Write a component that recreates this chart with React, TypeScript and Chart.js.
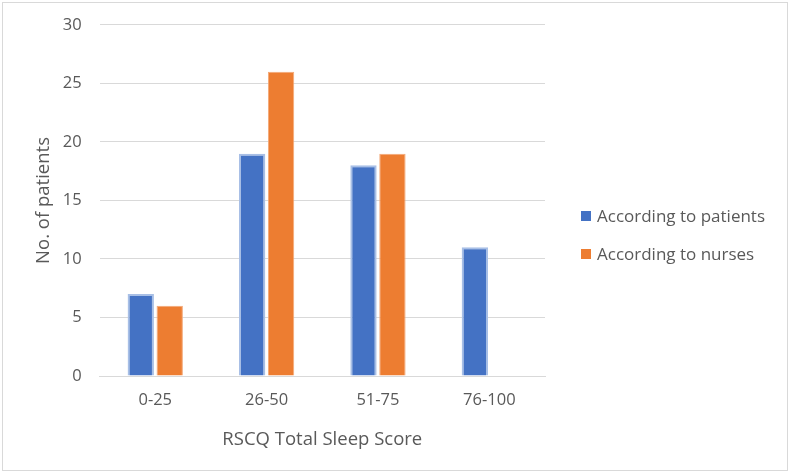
import React, { useEffect, useRef } from "react";
import { Chart, registerables } from "chart.js";

Chart.register(...registerables);

const categories = ["0-25", "26-50", "51-75", "76-100"];
const patientValues = [7, 19, 18, 11];
const nurseValues = [6, 26, 19, 0];
const seriesNames = ["According to patients", "According to nurses"];
const seriesColors = ["#4472C4", "#ED7D31"];
const yTicks = [0, 5, 10, 15, 20, 25, 30];

export default function App() {
  const ref = useRef<HTMLCanvasElement | null>(null);
  useEffect(() => {
    if (!ref.current) return;
    const font = "'Open Sans', sans-serif";
    const chart = new Chart(ref.current, {
      type: "bar",
      data: {
        labels: categories,
        datasets: [
          {
            label: seriesNames[0],
            data: patientValues,
            backgroundColor: seriesColors[0],
            borderColor: "#A8BFE6",
            borderWidth: 2,
            categoryPercentage: 0.52,
            barPercentage: 0.91,
          },
          {
            label: seriesNames[1],
            data: nurseValues,
            backgroundColor: seriesColors[1],
            borderColor: "#F3A877",
            borderWidth: 1,
            categoryPercentage: 0.52,
            barPercentage: 0.91,
          },
        ],
      },
      options: {
        animation: false,
        responsive: false,
        maintainAspectRatio: false,
        layout: { padding: { top: 3, right: 245, bottom: 20.5, left: 32.5 } },
        plugins: {
          tooltip: { enabled: false },
          legend: { display: false },
        },
        scales: {
          x: {
            grid: { display: false },
            border: { display: true, color: "#D9D9D9" },
            ticks: { color: "#595959", font: { family: font, size: 16.5 }, padding: 6 },
            title: {
              display: true,
              text: "RSCQ Total Sleep Score",
              color: "#595959",
              font: { family: font, size: 18.5 },
              padding: { top: 12.5, bottom: 0 },
            },
          },
          y: {
            min: 0,
            max: 30,
            afterBuildTicks: (axis: any) => {
              axis.ticks = yTicks.map((v) => ({ value: v }));
            },
            grid: { color: "#D9D9D9", drawTicks: false },
            border: { display: false },
            ticks: { color: "#595959", font: { family: font, size: 16.5 }, padding: 18 },
            title: {
              display: true,
              text: "No. of patients",
              color: "#595959",
              font: { family: font, size: 18.5 },
              padding: { top: 0, bottom: -10 },
            },
          },
        },
      },
    });
    return () => chart.destroy();
  }, []);
  return (
    <div
      style={{
        position: "fixed",
        left: 0,
        top: 0,
        width: 790,
        height: 474,
        background: "#fff",
        overflow: "hidden",
      }}
    >
      <canvas
        ref={ref}
        width={790}
        height={474}
        style={{ display: "block", position: "absolute", left: 0, top: -3 }}
      />
      <div
        style={{
          position: "absolute",
          left: 2,
          top: 2,
          width: 784,
          height: 467,
          border: "1px solid #D9D9D9",
          pointerEvents: "none",
        }}
      />
      <div
        style={{
          position: "absolute",
          left: 581,
          top: 197,
          fontFamily: "'Open Sans', sans-serif",
          fontSize: 17,
          color: "#595959",
          lineHeight: "38px",
        }}
      >
        {seriesNames.map((name, i) => (
          <div key={name} style={{ display: "flex", alignItems: "center", whiteSpace: "nowrap" }}>
            <span
              style={{
                display: "inline-block",
                width: 10,
                height: 10,
                background: seriesColors[i],
                marginRight: 6,
              }}
            />
            {name}
          </div>
        ))}
      </div>
    </div>
  );
}
